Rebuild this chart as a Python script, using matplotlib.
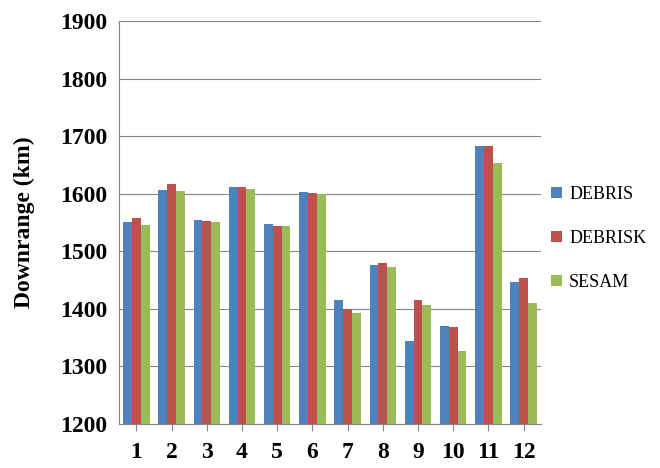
import numpy as np
import matplotlib.pyplot as plt

cases = [str(i) for i in range(1, 13)]
debris = [1550, 1607, 1554, 1611, 1547, 1603, 1415, 1475, 1343, 1370, 1683, 1447]
debrisk = [1557, 1616, 1553, 1612, 1543, 1601, 1400, 1479, 1415, 1368, 1682, 1453]
sesam = [1546, 1604, 1551, 1608, 1544, 1600, 1392, 1473, 1407, 1327, 1654, 1409]

fig = plt.figure(figsize=(6.6, 4.68), dpi=100)
ax = fig.add_axes([0.18, 0.095, 0.64, 0.86])
x = np.arange(len(cases))
w = 0.25
ax.bar(x - w, debris, w, color='#4F81BD', label='DEBRIS', zorder=3)
ax.bar(x, debrisk, w, color='#C0504D', label='DEBRISK', zorder=3)
ax.bar(x + w, sesam, w, color='#9BBB59', label='SESAM', zorder=3)

ax.set_ylim(1200, 1900)
ax.set_xlim(-0.5, 11.5)
ax.set_yticks(range(1200, 1901, 100))
ax.yaxis.grid(True, color='#868686', lw=0.8, zorder=0)
ax.set_xticks(x)
ax.set_xticklabels(cases)
for s in ['top', 'right']:
    ax.spines[s].set_visible(False)
ax.spines['left'].set_color('#868686')
ax.spines['bottom'].set_color('#868686')
ax.tick_params(axis='both', length=0, pad=8)
for lab in ax.get_xticklabels() + ax.get_yticklabels():
    lab.set_family('Liberation Serif')
    lab.set_fontweight('bold')
    lab.set_fontsize(17)
ax.tick_params(axis='x', length=5, color='#868686', direction='out')
ax.set_ylabel('Downrange (km)', family='Liberation Serif', fontweight='bold',
              fontsize=17, labelpad=18)
ax.legend(loc='center left', bbox_to_anchor=(0.985, 0.46), frameon=False,
          prop={'family': 'Liberation Serif', 'size': 13}, labelspacing=1.5,
          handlelength=0.6, handleheight=0.6, handletextpad=0.4)
fig.savefig('out.png')
